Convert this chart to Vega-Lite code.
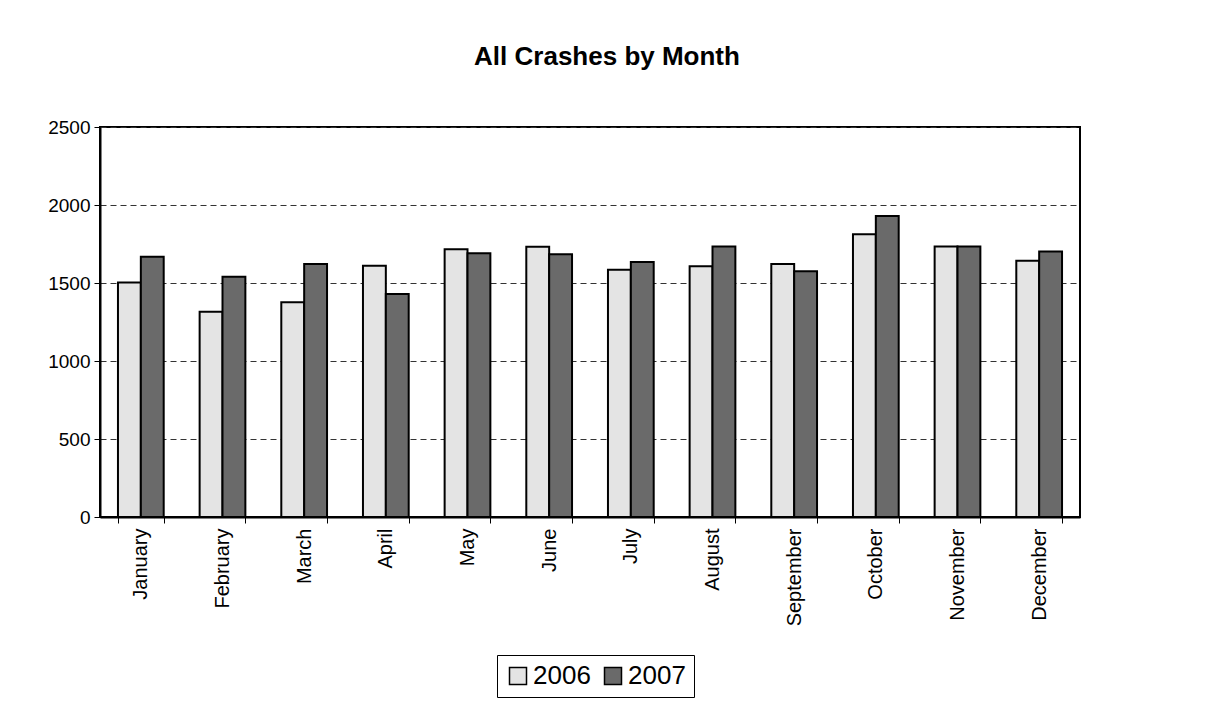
{
  "$schema": "https://vega.github.io/schema/vega-lite/v6.json",
  "autosize": "none",
  "width": 980,
  "height": 390,
  "padding": {"left": 100, "top": 127, "right": 125, "bottom": 210},
  "background": "white",
  "title": {
    "text": "All Crashes by Month",
    "font": "Liberation Sans",
    "fontSize": 26,
    "fontWeight": "bold",
    "color": "black",
    "offset": 48,
    "dx": 17
  },
  "config": {
    "view": {"stroke": "black", "strokeWidth": 2},
    "font": "Liberation Sans"
  },
  "data": {
    "values": [
      {"month": "January", "year": "2006", "crashes": 1503},
      {"month": "January", "year": "2007", "crashes": 1668},
      {"month": "February", "year": "2006", "crashes": 1316},
      {"month": "February", "year": "2007", "crashes": 1540},
      {"month": "March", "year": "2006", "crashes": 1376},
      {"month": "March", "year": "2007", "crashes": 1621},
      {"month": "April", "year": "2006", "crashes": 1610},
      {"month": "April", "year": "2007", "crashes": 1429},
      {"month": "May", "year": "2006", "crashes": 1717},
      {"month": "May", "year": "2007", "crashes": 1691},
      {"month": "June", "year": "2006", "crashes": 1732},
      {"month": "June", "year": "2007", "crashes": 1685},
      {"month": "July", "year": "2006", "crashes": 1585},
      {"month": "July", "year": "2007", "crashes": 1634},
      {"month": "August", "year": "2006", "crashes": 1608},
      {"month": "August", "year": "2007", "crashes": 1734},
      {"month": "September", "year": "2006", "crashes": 1621},
      {"month": "September", "year": "2007", "crashes": 1576},
      {"month": "October", "year": "2006", "crashes": 1813},
      {"month": "October", "year": "2007", "crashes": 1930},
      {"month": "November", "year": "2006", "crashes": 1734},
      {"month": "November", "year": "2007", "crashes": 1734},
      {"month": "December", "year": "2006", "crashes": 1642},
      {"month": "December", "year": "2007", "crashes": 1702}
    ]
  },
  "mark": {"type": "bar", "stroke": "black", "strokeWidth": 2},
  "encoding": {
    "x": {
      "field": "month",
      "type": "nominal",
      "sort": null,
      "scale": {"paddingInner": 0.44, "paddingOuter": 0.22},
      "axis": {
        "title": null,
        "labelAngle": -90,
        "labelFontSize": 20,
        "labelColor": "black",
        "labelPadding": 5,
        "domainColor": "black",
        "domainWidth": 2,
        "tickColor": "black",
        "tickSize": 6,
        "tickBand": "extent",
        "grid": false
      }
    },
    "xOffset": {"field": "year", "type": "nominal"},
    "y": {
      "field": "crashes",
      "type": "quantitative",
      "scale": {"domain": [0, 2500], "nice": false},
      "axis": {
        "title": null,
        "values": [0, 500, 1000, 1500, 2000, 2500],
        "format": "d",
        "labelFontSize": 19,
        "labelColor": "black",
        "labelPadding": 4,
        "domainColor": "black",
        "domainWidth": 2,
        "tickColor": "black",
        "tickSize": 6,
        "grid": true,
        "gridColor": "#333",
        "gridDash": [6, 4],
        "gridWidth": 1
      }
    },
    "fill": {
      "field": "year",
      "type": "nominal",
      "scale": {"domain": ["2006", "2007"], "range": ["#e4e4e4", "#6a6a6a"]},
      "legend": {
        "title": null,
        "orient": "none",
        "direction": "horizontal",
        "legendX": 397,
        "legendY": 528,
        "labelFontSize": 26,
        "labelColor": "black",
        "symbolType": "square",
        "symbolSize": 289,
        "symbolStrokeColor": "black",
        "symbolStrokeWidth": 1.5,
        "columnPadding": 9,
        "labelOffset": 2,
        "strokeColor": "black",
        "padding": 8,
        "fillColor": "white"
      }
    }
  }
}
